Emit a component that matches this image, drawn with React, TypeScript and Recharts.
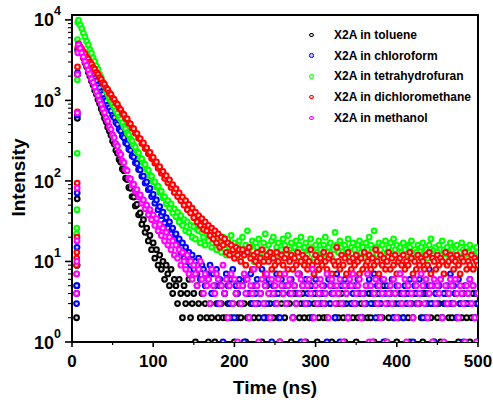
import { Label, ReferenceArea, Scatter, ScatterChart, XAxis, YAxis } from 'recharts'

const FONT = '"Liberation Sans", Arial, sans-serif'

// channel times in ns: sub-ns channels on the rising edge, then 2 ns bins
const TIME_NS = [
	5.6, 5.8, 6.0, 6.2, 6.4, 6.6, 6.8, 7.2,
	8, 10, 12, 14, 16, 18, 20, 22, 24, 26,
	28, 30, 32, 34, 36, 38, 40, 42, 44, 46,
	48, 50, 52, 54, 56, 58, 60, 62, 64, 66,
	68, 70, 72, 74, 76, 78, 80, 82, 84, 86,
	88, 90, 92, 94, 96, 98, 100, 102, 104, 106,
	108, 110, 112, 114, 116, 118, 120, 122, 124, 126,
	128, 130, 132, 134, 136, 138, 140, 142, 144, 146,
	148, 150, 152, 154, 156, 158, 160, 162, 164, 166,
	168, 170, 172, 174, 176, 178, 180, 182, 184, 186,
	188, 190, 192, 194, 196, 198, 200, 202, 204, 206,
	208, 210, 212, 214, 216, 218, 220, 222, 224, 226,
	228, 230, 232, 234, 236, 238, 240, 242, 244, 246,
	248, 250, 252, 254, 256, 258, 260, 262, 264, 266,
	268, 270, 272, 274, 276, 278, 280, 282, 284, 286,
	288, 290, 292, 294, 296, 298, 300, 302, 304, 306,
	308, 310, 312, 314, 316, 318, 320, 322, 324, 326,
	328, 330, 332, 334, 336, 338, 340, 342, 344, 346,
	348, 350, 352, 354, 356, 358, 360, 362, 364, 366,
	368, 370, 372, 374, 376, 378, 380, 382, 384, 386,
	388, 390, 392, 394, 396, 398, 400, 402, 404, 406,
	408, 410, 412, 414, 416, 418, 420, 422, 424, 426,
	428, 430, 432, 434, 436, 438, 440, 442, 444, 446,
	448, 450, 452, 454, 456, 458, 460, 462, 464, 466,
	468, 470, 472, 474, 476, 478, 480, 482, 484, 486,
	488, 490, 492, 494, 496, 498, 500,
]

// photon counts per channel
const TOLUENE = [
	2, 4, 5, 9, 60, 600, 2100, 4200,
	5000, 4400, 3820, 3390, 2940, 2610, 2260, 2010, 1740, 1550,
	1340, 1190, 1025, 915, 790, 705, 605, 542, 465, 418,
	370, 314, 287, 240, 221, 184, 172, 141, 134, 108,
	104, 83, 81, 64, 63, 49, 51, 38, 40, 29,
	33, 23, 26, 18, 21, 14, 17, 11, 14, 9,
	12, 8, 10, 6, 9, 7, 5, 8, 4, 6,
	5, 3, 6, 4, 2, 5, 3, 4, 6, 2,
	3, 4, 1, 5, 3, 2, 4, 0, 3, 2,
	1, 3, 2, 4, 1, 3, 2, 5, 3, 2,
	4, 2, 3, 0, 2, 3, 1, 4, 2, 3,
	2, 5, 3, 1, 2, 4, 3, 0, 2, 3,
	3, 2, 4, 1, 3, 2, 5, 2, 3, 0,
	2, 4, 3, 2, 1, 3, 4, 2, 3, 5,
	3, 1, 2, 4, 3, 0, 2, 3, 4, 2,
	1, 3, 2, 5, 2, 3, 4, 1, 2, 3,
	4, 2, 3, 2, 0, 3, 1, 4, 2, 3,
	2, 3, 4, 2, 1, 3, 2, 5, 3, 2,
	3, 1, 2, 4, 3, 2, 0, 3, 2, 4,
	2, 3, 1, 3, 4, 2, 3, 2, 5, 1,
	3, 2, 4, 0, 2, 3, 1, 2, 4, 3,
	2, 4, 3, 2, 1, 3, 2, 4, 3, 0,
	3, 2, 1, 4, 2, 3, 5, 2, 3, 1,
	4, 2, 3, 1, 2, 3, 4, 0, 2, 3,
	2, 3, 4, 2, 1, 3, 2, 4, 3, 2,
	3, 1, 2, 4, 2, 3, 1,
]

const CHLOROFORM = [
	3, 5, 9, 15, 71, 660, 2200, 4300,
	4950, 4580, 4090, 3780, 3370, 3110, 2780, 2570, 2290, 2120,
	1890, 1750, 1550, 1440, 1280, 1190, 1050, 985, 865, 810,
	740, 650, 612, 535, 505, 440, 418, 362, 345, 298,
	288, 248, 240, 204, 198, 168, 165, 139, 137, 114,
	115, 94, 97, 78, 81, 64, 68, 53, 58, 44,
	48, 37, 41, 30, 35, 26, 31, 22, 26, 19,
	22, 16, 19, 13, 17, 11, 15, 10, 13, 9,
	12, 8, 10, 7, 11, 6, 9, 8, 5, 7,
	6, 9, 4, 7, 5, 8, 3, 6, 5, 1,
	4, 7, 5, 3, 6, 8, 2, 5, 4, 6,
	3, 5, 1, 6, 4, 2, 7, 3, 5, 4,
	6, 3, 4, 8, 2, 5, 3, 6, 4, 1,
	5, 3, 7, 4, 2, 6, 4, 5, 3, 12,
	4, 6, 2, 5, 3, 4, 7, 1, 5, 3,
	6, 4, 3, 5, 2, 4, 6, 3, 8, 4,
	3, 5, 4, 1, 6, 3, 4, 5, 2, 7,
	4, 1, 5, 3, 6, 4, 2, 5, 3, 4,
	5, 3, 6, 4, 2, 15, 4, 3, 5, 6,
	3, 4, 7, 2, 5, 4, 3, 6, 1, 4,
	5, 3, 4, 6, 2, 4, 5, 3, 7, 4,
	2, 5, 3, 4, 6, 3, 1, 5, 4, 3,
	6, 4, 2, 5, 3, 4, 8, 3, 5, 1,
	4, 3, 5, 6, 2, 4, 3, 5, 4, 7,
	3, 5, 4, 2, 6, 3, 4, 1, 5, 3,
	4, 6, 3, 5, 2, 4, 3,
]

const THF = [
	7, 22, 26, 44, 220, 1800, 5700, 9300,
	9900, 8650, 7800, 6850, 6150, 5400, 4880, 4270, 3860, 3380,
	3050, 2680, 2420, 2110, 1920, 1670, 1520, 1320, 1200, 1050,
	990, 895, 830, 745, 690, 620, 580, 530, 475, 445,
	398, 372, 330, 312, 278, 262, 231, 222, 195, 188,
	165, 160, 139, 136, 117, 115, 98, 97, 84, 86,
	72, 74, 62, 64, 52, 57, 46, 52, 40, 45,
	36, 41, 31, 37, 28, 33, 24, 31, 23, 28,
	20, 27, 19, 25, 24, 17, 23, 20, 16, 22,
	18, 21, 15, 19, 22, 14, 18, 17, 13, 20,
	16, 12, 19, 15, 21, 13, 17, 11, 16, 18,
	14, 20, 12, 16, 24, 13, 15, 18, 10, 17,
	15, 19, 13, 11, 17, 22, 14, 16, 12, 18,
	20, 13, 15, 17, 11, 14, 19, 16, 12, 21,
	14, 17, 13, 15, 18, 10, 16, 20, 13, 15,
	17, 12, 14, 19, 15, 11, 16, 13, 18, 14,
	12, 16, 20, 13, 15, 17, 11, 14, 23, 16,
	13, 18, 15, 12, 16, 14, 19, 11, 15, 17,
	14, 12, 16, 18, 13, 15, 11, 17, 14, 20,
	16, 13, 24, 15, 12, 17, 14, 16, 11, 18,
	13, 15, 17, 12, 19, 14, 16, 10, 15, 13,
	17, 14, 12, 16, 15, 18, 11, 14, 13, 16,
	12, 15, 17, 13, 14, 11, 16, 19, 12, 14,
	15, 13, 16, 12, 18, 14, 11, 15, 13, 17,
	14, 12, 15, 16, 11, 13, 17, 14, 12, 15,
	13, 16, 11, 14, 12, 15, 13,
]

const DCM = [
	9, 11, 13, 20, 94, 720, 2600, 4600,
	5050, 4620, 4350, 3990, 3770, 3450, 3260, 2980, 2830, 2570,
	2440, 2220, 2110, 1920, 1830, 1660, 1590, 1430, 1370, 1240,
	1185, 1070, 1030, 925, 890, 800, 770, 690, 668, 595,
	590, 522, 512, 452, 445, 392, 388, 338, 336, 292,
	296, 252, 258, 218, 226, 190, 196, 166, 172, 144,
	150, 125, 131, 108, 116, 95, 103, 83, 90, 72,
	80, 64, 71, 57, 63, 50, 57, 44, 51, 40,
	46, 35, 41, 31, 37, 28, 34, 25, 31, 24,
	28, 21, 26, 19, 24, 17, 22, 15, 20, 16,
	19, 13, 17, 12, 16, 14, 11, 15, 12, 14,
	10, 14, 12, 9, 13, 15, 11, 8, 12, 10,
	13, 9, 11, 14, 10, 7, 12, 10, 13, 8,
	11, 9, 13, 10, 7, 12, 9, 11, 14, 8,
	10, 12, 8, 11, 9, 13, 7, 10, 12, 9,
	11, 8, 10, 14, 9, 7, 12, 10, 8, 11,
	9, 13, 10, 8, 11, 12, 7, 10, 9, 15,
	10, 8, 12, 9, 11, 7, 13, 10, 8, 11,
	9, 12, 10, 7, 11, 8, 13, 9, 10, 12,
	8, 11, 9, 14, 10, 7, 12, 9, 11, 8,
	10, 13, 8, 11, 9, 12, 7, 10, 11, 9,
	12, 8, 10, 9, 13, 11, 7, 10, 8, 12,
	9, 11, 10, 8, 12, 9, 13, 7, 11, 10,
	8, 12, 9, 11, 10, 7, 13, 9, 10, 12,
	11, 8, 10, 12, 9, 7, 11, 10, 13, 8,
	10, 9, 12, 8, 11, 10, 9,
]

const METHANOL = [
	4, 7, 10, 18, 82, 700, 2100, 3900,
	4900, 4450, 3880, 3480, 3030, 2720, 2370, 2130, 1850, 1670,
	1470, 1275, 1150, 995, 900, 778, 705, 606, 551, 472,
	436, 372, 344, 290, 271, 227, 213, 178, 169, 139,
	134, 108, 106, 89, 91, 74, 78, 63, 67, 53,
	58, 45, 50, 38, 44, 33, 38, 28, 34, 24,
	29, 21, 26, 18, 23, 16, 20, 14, 18, 12,
	16, 11, 14, 9, 13, 10, 8, 12, 7, 10,
	6, 9, 7, 5, 8, 10, 6, 4, 7, 5,
	6, 3, 8, 5, 4, 7, 6, 3, 5, 9,
	4, 6, 2, 5, 7, 3, 6, 4, 1, 5,
	3, 5, 7, 4, 6, 2, 5, 4, 8, 3,
	5, 1, 4, 6, 3, 5, 7, 4, 2, 6,
	4, 5, 3, 6, 1, 5, 4, 7, 3, 5,
	6, 4, 2, 5, 3, 7, 4, 6, 5, 1,
	3, 5, 6, 4, 8, 2, 5, 3, 4, 6,
	5, 3, 4, 7, 2, 5, 6, 4, 3, 5,
	4, 6, 3, 1, 5, 4, 2, 6, 5, 7,
	3, 4, 5, 6, 2, 4, 3, 5, 7, 1,
	5, 1, 4, 6, 3, 5, 2, 4, 6, 3,
	1, 4, 5, 3, 6, 4, 2, 5, 7, 3,
	4, 6, 1, 5, 3, 4, 2, 6, 5, 3,
	4, 7, 5, 3, 6, 2, 4, 5, 1, 6,
	3, 5, 4, 6, 2, 1, 5, 3, 4, 6,
	5, 3, 6, 4, 2, 5, 4, 3, 1, 5,
	4, 6, 3, 5, 2, 1, 4,
]

const SERIES = [
	{ name: 'X2A in toluene', values: TOLUENE, color: '#000000', core: '#d8d8d8' },
	{ name: 'X2A in chloroform', values: CHLOROFORM, color: '#0000ff', core: '#d0d0ff' },
	{ name: 'X2A in tetrahydrofuran', values: THF, color: '#00ff00', core: '#d4ffd4' },
	{ name: 'X2A in dichloromethane', values: DCM, color: '#ff0000', core: '#ffd0d0' },
	{ name: 'X2A in methanol', values: METHANOL, color: '#ff00ff', core: '#ffd4ff' },
]

const X_TICKS = [0, 50, 100, 150, 200, 250, 300, 350, 400, 450, 500]
const Y_DECADES = [1, 10, 100, 1000, 10000]
const Y_MINOR_STEPS = [2, 3, 4, 5, 6, 7, 8, 9]
const Y_TICKS = Y_DECADES.flatMap((d) => (d === 10000 ? [d] : [d, ...Y_MINOR_STEPS.map((m) => m * d)]))
const Y_TOP = 11500

// zero counts cannot be drawn on a log axis
function toPoints(values: number[]) {
	return TIME_NS.map((t, i) => ({ t, v: values[i] })).filter((p) => p.v > 0)
}

function makeDot(color: string, core: string) {
	return (props: any) => (
		<circle cx={props.cx} cy={props.cy} r={2.4} fill={core} stroke={color} strokeWidth={2} />
	)
}

function XTick({ x, y, payload }: any) {
	const major = payload.value % 100 === 0
	return (
		<g>
			<line x1={x} x2={x} y1={y} y2={y + (major ? 5 : 3)} stroke="#000" strokeWidth={major ? 1.6 : 1.2} />
			{major && (
				<text x={x} y={y + 24.5} textAnchor="middle" fontSize={17} fontWeight="bold" fontFamily={FONT} fill="#000">
					{payload.value}
				</text>
			)}
		</g>
	)
}

function YTick({ x, y, payload }: any) {
	const exp = Math.log10(payload.value)
	const major = Math.abs(exp - Math.round(exp)) < 1e-9
	return (
		<g>
			<line x1={x - (major ? 7 : 4)} x2={x} y1={y} y2={y} stroke="#000" strokeWidth={major ? 1.6 : 1.1} />
			{major && (
				<text x={x - 11} y={y + 6.6} textAnchor="end" fontSize={18} fontWeight="bold" fontFamily={FONT} fill="#000">
					<tspan>10</tspan>
					<tspan fontSize={12.5} dy={-11}>
						{Math.round(exp)}
					</tspan>
				</text>
			)}
		</g>
	)
}

function LegendBox() {
	return (
		<div style={{ position: 'absolute', left: 309, top: 24.7, fontFamily: FONT, fontWeight: 'bold', fontSize: 12 }}>
			{SERIES.map((s) => (
				<div key={s.name} style={{ display: 'flex', alignItems: 'center', height: 20.7 }}>
					<div
						style={{
							width: 2.5,
							height: 2.5,
							borderRadius: '50%',
							border: `1.5px solid ${s.color}`,
							background: s.core,
							marginRight: 20.5,
						}}
					/>
					<span style={{ whiteSpace: 'nowrap', color: '#000' }}>{s.name}</span>
				</div>
			))}
		</div>
	)
}

export default function App() {
	return (
		<div style={{ position: 'absolute', left: 0, top: 0, width: 493, height: 404, background: '#fff' }}>
			<ScatterChart width={493} height={404} margin={{ top: 15, right: 15, bottom: 32, left: 10 }}>
				<XAxis
					type="number"
					dataKey="t"
					domain={[0, 500]}
					allowDataOverflow
					ticks={X_TICKS}
					interval={0}
					tickSize={0}
					tickMargin={0}
					tickLine={false}
					axisLine={{ stroke: '#000', strokeWidth: 2 }}
					tick={<XTick />}
					height={30}
				>
					<Label
						content={() => (
							<text x={275} y={394} textAnchor="middle" fontSize={19} fontWeight="bold" fontFamily={FONT} fill="#000">
								Time (ns)
							</text>
						)}
					/>
				</XAxis>
				<YAxis
					type="number"
					dataKey="v"
					scale="log"
					domain={[1, Y_TOP]}
					allowDataOverflow
					ticks={Y_TICKS}
					interval={0}
					tickSize={0}
					tickMargin={0}
					tickLine={false}
					axisLine={{ stroke: '#000', strokeWidth: 2 }}
					tick={<YTick />}
					width={62}
				>
					<Label
						content={() => (
							<text
								transform="translate(25,177.5) rotate(-90)"
								textAnchor="middle"
								fontSize={19}
								fontWeight="bold"
								fontFamily={FONT}
								fill="#000"
							>
								Intensity
							</text>
						)}
					/>
				</YAxis>
				{SERIES.map((s) => (
					<Scatter
						key={s.name}
						name={s.name}
						data={toPoints(s.values)}
						fill={s.color}
						shape={makeDot(s.color, s.core)}
						isAnimationActive={false}
					/>
				))}
				<ReferenceArea x1={0} x2={500} y1={1} y2={Y_TOP} fill="none" stroke="#000" strokeWidth={2} />
			</ScatterChart>
			<LegendBox />
		</div>
	)
}
